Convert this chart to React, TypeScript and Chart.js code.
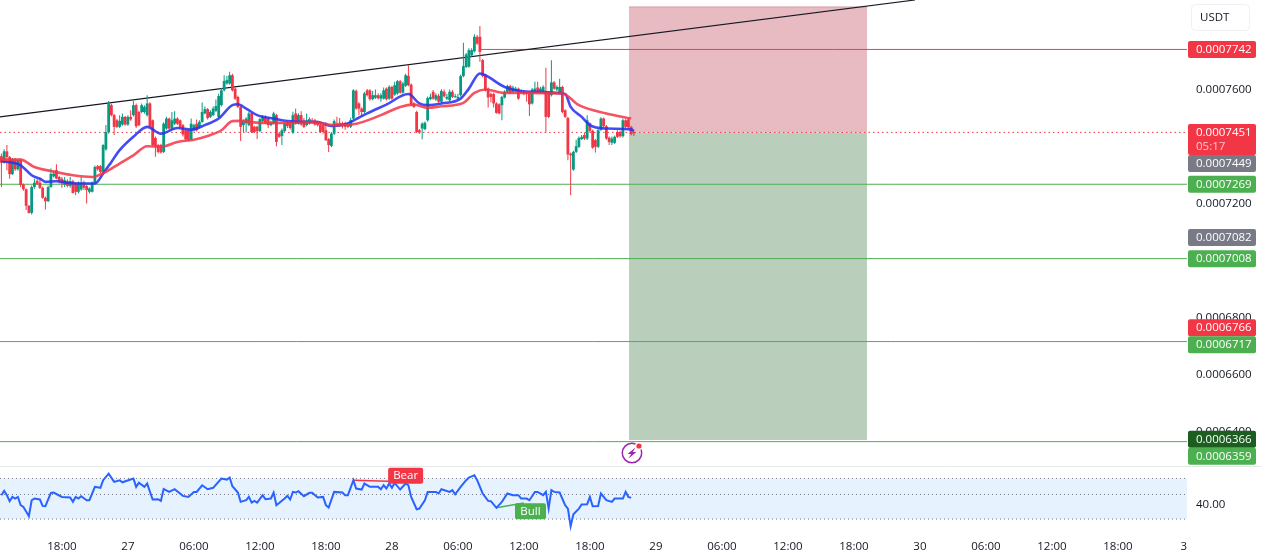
import React, { useEffect, useRef } from "react";
import { Chart, registerables } from "chart.js";

Chart.register(...registerables);

// Prices are in units of 0.0000001 USDT
const PRICE_UNIT = 1e-7;
// The candle and EMA estimates below read about 3.5 units high; corrected once where they are used.
const READ_BIAS = 3.5;
const opens = [7371,7348,7388,7368,7308,7360,7325,7358,7272,7255,7197,7172,7263,7285,7278,7260,7225,7213,7263,7300,7322,7298,7292,7270,7283,7267,7283,7275,7246,7254,7278,7266,7246,7246,7278,7336,7336,7316,7395,7456,7550,7515,7497,7474,7482,7509,7482,7509,7515,7550,7526,7526,7526,7515,7556,7497,7435,7410,7410,7386,7468,7503,7468,7485,7503,7497,7480,7462,7462,7430,7462,7485,7474,7491,7521,7536,7509,7515,7530,7509,7550,7602,7626,7626,7655,7608,7579,7544,7480,7486,7480,7521,7474,7474,7459,7494,7509,7503,7480,7486,7515,7450,7442,7459,7491,7486,7454,7521,7486,7515,7497,7480,7486,7497,7497,7491,7482,7480,7462,7431,7407,7450,7486,7488,7486,7486,7480,7474,7503,7600,7556,7538,7526,7602,7602,7571,7576,7585,7573,7573,7608,7573,7614,7587,7591,7634,7594,7618,7653,7622,7556,7526,7462,7468,7466,7497,7571,7597,7570,7583,7562,7597,7573,7567,7597,7579,7573,7585,7652,7684,7685,7725,7739,7790,7790,7708,7655,7608,7589,7589,7556,7553,7550,7577,7597,7617,7597,7600,7608,7593,7597,7593,7593,7556,7597,7612,7597,7597,7597,7593,7585,7630,7605,7593,7614,7532,7505,7380,7324,7386,7404,7431,7445,7433,7486,7460,7427,7404,7464,7503,7476,7436,7418,7418,7456,7456,7441,7497,7500,7474,7456];
const highs = [7380,7395,7410,7372,7365,7365,7362,7362,7275,7258,7200,7268,7292,7290,7295,7265,7230,7268,7328,7320,7343,7302,7298,7298,7290,7298,7288,7280,7282,7298,7285,7270,7262,7282,7338,7340,7340,7413,7480,7565,7555,7520,7502,7515,7521,7512,7515,7532,7565,7556,7530,7556,7550,7585,7560,7500,7440,7414,7415,7490,7509,7506,7526,7529,7508,7500,7484,7466,7465,7503,7485,7500,7497,7559,7545,7540,7532,7545,7570,7590,7610,7655,7652,7667,7660,7612,7583,7548,7500,7508,7527,7525,7478,7478,7506,7515,7515,7508,7495,7527,7520,7455,7468,7490,7495,7490,7527,7538,7522,7529,7505,7521,7508,7505,7502,7495,7486,7484,7491,7435,7456,7500,7509,7505,7492,7492,7490,7506,7606,7605,7560,7542,7596,7607,7606,7600,7605,7592,7592,7612,7612,7620,7618,7632,7638,7638,7632,7660,7690,7626,7560,7530,7466,7490,7493,7580,7590,7603,7592,7590,7606,7605,7590,7605,7603,7590,7590,7658,7769,7733,7750,7750,7799,7796,7828,7712,7660,7612,7594,7594,7560,7557,7583,7602,7622,7622,7618,7615,7612,7605,7602,7597,7597,7610,7632,7632,7615,7620,7681,7598,7708,7635,7620,7643,7618,7536,7509,7384,7390,7429,7440,7445,7455,7515,7490,7465,7431,7467,7508,7507,7480,7440,7440,7444,7462,7460,7502,7501,7504,7478,7460];
const lows = [7263,7345,7322,7292,7305,7320,7320,7262,7250,7182,7170,7166,7257,7270,7256,7222,7184,7210,7260,7296,7290,7275,7260,7263,7262,7260,7240,7234,7240,7250,7252,7205,7240,7244,7275,7320,7312,7312,7390,7450,7510,7445,7470,7470,7478,7478,7478,7495,7510,7470,7476,7522,7520,7510,7470,7405,7369,7380,7380,7382,7464,7464,7464,7480,7480,7470,7440,7426,7424,7426,7458,7458,7470,7488,7518,7500,7505,7512,7526,7505,7545,7598,7622,7622,7598,7568,7540,7424,7456,7454,7476,7452,7452,7431,7455,7490,7484,7470,7476,7482,7406,7436,7410,7455,7470,7465,7450,7482,7482,7478,7470,7476,7482,7486,7478,7475,7452,7450,7424,7386,7402,7445,7473,7476,7468,7464,7470,7470,7500,7534,7515,7509,7522,7580,7566,7567,7572,7570,7562,7570,7566,7568,7569,7583,7587,7590,7590,7614,7616,7548,7540,7452,7450,7430,7462,7492,7567,7569,7565,7558,7558,7577,7568,7563,7575,7575,7569,7580,7648,7680,7681,7720,7735,7762,7702,7648,7598,7542,7560,7542,7520,7518,7497,7573,7593,7590,7593,7596,7569,7590,7585,7562,7512,7552,7593,7593,7593,7593,7454,7505,7580,7604,7600,7590,7522,7505,7357,7234,7320,7382,7400,7428,7428,7428,7456,7397,7384,7400,7460,7472,7429,7410,7410,7414,7435,7437,7437,7470,7468,7444,7442];
const closes = [7348,7388,7368,7308,7360,7325,7358,7270,7255,7197,7172,7263,7278,7274,7260,7225,7213,7263,7309,7310,7293,7283,7275,7287,7267,7283,7242,7246,7278,7278,7260,7252,7258,7278,7333,7325,7316,7410,7456,7556,7515,7474,7474,7495,7509,7482,7509,7500,7550,7476,7480,7550,7544,7556,7474,7410,7406,7386,7384,7485,7503,7468,7497,7503,7485,7474,7447,7430,7427,7485,7480,7462,7491,7526,7536,7505,7526,7538,7547,7582,7602,7635,7638,7655,7602,7573,7544,7474,7494,7503,7521,7456,7456,7459,7501,7509,7488,7480,7488,7521,7421,7439,7462,7485,7477,7470,7515,7486,7515,7482,7474,7497,7501,7491,7482,7480,7456,7456,7427,7410,7450,7494,7477,7480,7480,7474,7474,7497,7602,7538,7538,7526,7591,7585,7571,7585,7585,7574,7585,7602,7571,7614,7573,7620,7634,7594,7626,7655,7620,7552,7544,7456,7454,7485,7488,7575,7579,7573,7585,7562,7600,7581,7579,7597,7579,7582,7579,7652,7687,7728,7743,7743,7790,7766,7737,7652,7603,7577,7579,7556,7523,7521,7579,7597,7617,7593,7612,7608,7573,7596,7589,7589,7553,7605,7608,7597,7608,7614,7509,7509,7630,7608,7614,7614,7526,7509,7377,7374,7386,7406,7435,7439,7433,7497,7460,7401,7404,7462,7503,7476,7433,7421,7433,7439,7439,7441,7497,7474,7472,7448,7451];

const blueEmaIdx = [0,7,11,14,16,20,24,29,34,37,40,43,48,53,58,64,69,74,79,84,86,89,93,99,104,111,115,120,126,129,133,140,148,152,155,160,167,170,174,176,183,192,205,207,211,214,220,229,230];
const blueEma = [7354,7339,7304,7292,7281,7283,7278,7275,7275,7310,7351,7392,7439,7474,7450,7470,7464,7480,7503,7550,7553,7538,7515,7503,7494,7491,7491,7477,7486,7501,7521,7552,7589,7556,7550,7556,7573,7608,7661,7655,7614,7597,7589,7544,7509,7480,7468,7465,7460];
const redEmaIdx = [0,7,12,18,26,33,38,43,48,53,58,64,70,75,80,84,87,94,106,113,121,128,138,145,150,155,160,168,172,176,183,192,204,210,220,229];
const redEma = [7359,7359,7333,7319,7304,7298,7316,7345,7374,7406,7404,7421,7429,7442,7462,7494,7495,7488,7488,7490,7480,7483,7515,7544,7552,7541,7546,7558,7593,7605,7593,7593,7591,7550,7521,7503];

const rsiIdx = [0,1,2,3,4,5,6,7,8,10,11,12,14,15,16,18,19,22,25,26,27,28,29,31,32,34,36,37,39,41,43,44,48,49,50,52,53,55,57,58,59,61,63,66,68,70,71,73,75,77,80,82,83,84,86,87,89,90,91,92,93,95,96,98,99,100,103,104,105,106,107,108,110,112,113,115,117,118,119,121,124,125,126,128,129,131,132,134,137,138,139,140,141,142,143,145,147,148,149,151,152,154,155,158,159,160,163,164,165,167,169,170,172,173,175,177,178,180,182,184,186,188,189,191,192,194,195,197,198,199,200,201,203,205,206,207,208,210,211,213,214,215,217,218,220,222,223,226,227,228,229];
const rsiVal = [49.3,53.4,49.3,43.7,47.7,46.2,47.7,40,38.4,29.7,44.6,46.2,45.3,39.3,39,51.5,51.8,47.7,47.1,43.1,47.7,46.2,48.4,44.6,44.6,57.1,56.2,63.3,69.5,61.8,63.3,61.4,64.9,57.1,61.1,57.1,60.2,45.3,45.6,44,55.2,52.4,54.9,48.7,47.7,52.4,52.4,58.6,54.9,56.2,64.9,63.9,65.8,57.7,51.8,43.1,44.6,47.7,42.4,44,42.4,49.3,45.6,46.2,51.8,40,46.2,48.7,45.3,52.4,51.8,53,48.4,51.5,51.5,47.1,47.7,40,37.8,52.4,51.8,49.3,49.3,63.3,55.5,54.6,60.2,57.1,57.1,54.9,58.6,55.5,60.2,56.2,60.8,54.6,60.2,58.6,47.7,36.2,36.8,44.6,52.4,52.4,50.9,54.9,52.4,54,50.2,57.1,63.3,65.8,68,63.3,50.9,44,43.7,37.5,43.1,50.9,49.3,49.3,46.2,46.2,44.6,52.4,52.4,49.3,52.4,36.8,54,52.4,51.8,40,36.8,20.3,31.5,36.8,40.6,40.9,47.7,39,39.3,50.9,44.6,43.1,46.2,46.2,52.4,47.7,46.8];
const rsiLevels = [65, 50, 27];

const timeTickIdx = [22,46,70,94,118,142,166,190,214,238,262,286,310,334,358,382,406,430];
const timeTickLabels = ["18:00","27","06:00","12:00","18:00","28","06:00","12:00","18:00","29","06:00","12:00","18:00","30","06:00","12:00","18:00","3"];
const priceTicks = [7600,7200,6800,6600,6400];
const rsiTicks = [40];

const RED = "#F23645";
const GREEN = "#089981";
const LINE_GREEN = "#4CAF50";
const FONT = '"Open Sans", sans-serif';
const FONT_SIZE = 11.5;

const priceLabels = [
  { value: 7742, bg: "#F23645", extra: "" },
  { value: 7451, bg: "#F23645", extra: "05:17" },
  { value: 7449, bg: "#787B86", extra: "" },
  { value: 7269, bg: "#4CAF50", extra: "" },
  { value: 7082, bg: "#787B86", extra: "" },
  { value: 7008, bg: "#4CAF50", extra: "" },
  { value: 6766, bg: "#F23645", extra: "" },
  { value: 6717, bg: "#4CAF50", extra: "" },
  { value: 6366, bg: "#1B5E20", extra: "", nudge: -2.5 },
  { value: 6359, bg: "#4CAF50", extra: "" },
];
const fmt = (v: number) => (v * PRICE_UNIT).toFixed(7);

const noPadding = (s: any) => {
  s.paddingLeft = 0;
  s.paddingRight = 0;
  s.paddingTop = 0;
  s.paddingBottom = 0;
};

const overlay = {
  id: "overlay",
  beforeDatasetsDraw(chart: any) {
    const { ctx, chartArea, scales } = chart;
    const r = scales.yRsi;
    ctx.save();
    ctx.fillStyle = "#E6F3FE";
    const t = r.getPixelForValue(rsiLevels[0]);
    const b = r.getPixelForValue(rsiLevels[2]);
    ctx.fillRect(chartArea.left, t, chartArea.width, b - t);
    ctx.restore();
  },
  afterDraw(chart: any) {
    const { ctx, scales, width } = chart;
    const y = scales.y;
    const x = scales.x;
    const r = scales.yRsi;
    ctx.save();
    // pane separator
    ctx.strokeStyle = "#E6E7EB";
    ctx.lineWidth = 1;
    ctx.beginPath();
    ctx.moveTo(0, y.bottom + 0.5);
    ctx.lineTo(width, y.bottom + 0.5);
    ctx.stroke();

    // unit button
    ctx.strokeStyle = "#EFF0F3";
    ctx.fillStyle = "#fff";
    ctx.beginPath();
    ctx.roundRect(1191.5, 4.5, 58, 26, 4);
    ctx.fill();
    ctx.stroke();
    ctx.fillStyle = "#131722";
    ctx.font = `${FONT_SIZE}px ${FONT}`;
    ctx.textAlign = "left";
    ctx.textBaseline = "middle";
    ctx.fillText("USDT", 1200, 18);

    // axis labels, stacked so they never overlap
    let prevBottom = -Infinity;
    for (const l of priceLabels) {
      const cy = y.getPixelForValue(l.value) + ((l as any).nudge || 0);
      const h = l.extra ? 31 : 17;
      const top = Math.max(cy - 8.5, prevBottom);
      ctx.fillStyle = l.bg;
      ctx.beginPath();
      ctx.roundRect(1188, top, 68, h, 2);
      ctx.fill();
      ctx.fillStyle = "#fff";
      ctx.textAlign = "left";
      ctx.fillText(fmt(l.value), 1196, top + 9);
      if (l.extra) {
        ctx.fillStyle = "rgba(255,255,255,0.72)";
        ctx.fillText(l.extra, 1196, top + 23);
      }
      prevBottom = top + h;
    }

    // divergence tags
    const tag = (text: string, bg: string, i: number, v: number, w: number) => {
      const cx = x.getPixelForValue(i);
      const cy = r.getPixelForValue(v);
      ctx.fillStyle = bg;
      ctx.beginPath();
      ctx.roundRect(cx - w / 2, cy - 8, w, 16, 2);
      ctx.fill();
      ctx.fillStyle = "#fff";
      ctx.textAlign = "center";
      ctx.fillText(text, cx, cy + 0.5);
    };
    tag("Bear", RED, 147, 67.6, 35);
    tag("Bull", LINE_GREEN, 192.4, 34.4, 31);

    // event marker
    const mx = x.getPixelForValue(229.3);
    const my = y.bottom - 13;
    ctx.strokeStyle = "#9C27B0";
    ctx.lineWidth = 1.5;
    ctx.beginPath();
    ctx.arc(mx, my, 9.7, 0, Math.PI * 2);
    ctx.stroke();
    ctx.fillStyle = "#9C27B0";
    ctx.beginPath();
    ctx.moveTo(mx + 3.5, my - 5.5);
    ctx.lineTo(mx - 4.5, my + 1);
    ctx.lineTo(mx - 0.8, my + 1);
    ctx.lineTo(mx - 3.5, my + 5.5);
    ctx.lineTo(mx + 4.5, my - 1);
    ctx.lineTo(mx + 0.8, my - 1);
    ctx.closePath();
    ctx.fill();
    ctx.fillStyle = "#fff";
    ctx.beginPath();
    ctx.arc(mx + 7, my - 7, 4, 0, Math.PI * 2);
    ctx.fill();
    ctx.fillStyle = RED;
    ctx.beginPath();
    ctx.arc(mx + 7, my - 7, 2.6, 0, Math.PI * 2);
    ctx.fill();
    ctx.restore();
  },
};

export default function App() {
  const ref = useRef<HTMLCanvasElement | null>(null);
  useEffect(() => {
    document.body.style.margin = "0";
    document.body.style.background = "#fff";
    const X_MIN = -0.51;
    const X_MAX = 431.13;
    const candleColors = closes.map((c, i) => (c >= opens[i] ? GREEN : RED));
    const hline = (v: number, color: string, from = X_MIN, to = X_MAX, extra: any = {}) => ({
      type: "line",
      data: [{ x: from, y: v }, { x: to, y: v }],
      borderColor: color,
      borderWidth: 1,
      pointRadius: 0,
      yAxisID: "y",
      order: 5,
      ...extra,
    });
    const rline = (v: number) => ({
      type: "line",
      data: [{ x: X_MIN, y: v }, { x: X_MAX, y: v }],
      borderColor: "#787B86",
      borderWidth: 1,
      borderDash: [1, 3],
      pointRadius: 0,
      yAxisID: "yRsi",
      order: 6,
    });
    const boxLeft = 228.2;
    const boxRight = 314.8;
    const chart = new Chart(ref.current as HTMLCanvasElement, {
      type: "bar",
      plugins: [overlay],
      data: {
        datasets: [
          // position tool
          {
            type: "line",
            data: [{ x: boxLeft, y: 7891 }, { x: boxRight, y: 7891 }],
            borderColor: "#D29EA4",
            borderWidth: 1,
            pointRadius: 0,
            fill: { value: 7451 },
            backgroundColor: "#E7BBC1",
            yAxisID: "y",
            order: 9,
          },
          {
            type: "line",
            data: [{ x: boxLeft, y: 6372 }, { x: boxRight, y: 6372 }],
            borderColor: "#BACEBC",
            borderWidth: 0,
            pointRadius: 0,
            fill: { value: 7451 },
            backgroundColor: "#BACEBC",
            yAxisID: "y",
            order: 9,
          },
          hline(7269, LINE_GREEN),
          hline(7008, LINE_GREEN),
          hline(6717, LINE_GREEN),
          hline(6366, LINE_GREEN),
          hline(7742, "#E5414F", 174),
          hline(7451, RED, X_MIN, X_MAX, { borderDash: [1.5, 3] }),
          // trend line
          {
            type: "line",
            data: [{ x: X_MIN, y: 7505.5 }, { x: 332.2, y: 7915.5 }],
            borderColor: "#131722",
            borderWidth: 1.2,
            pointRadius: 0,
            yAxisID: "y",
            order: 4,
          },
          // candles
          {
            type: "bar",
            data: closes.map((_, i) => ({ x: i, y: [lows[i] - READ_BIAS, highs[i] - READ_BIAS] })),
            backgroundColor: candleColors,
            barThickness: 1,
            grouped: false,
            inflateAmount: 0,
            yAxisID: "y",
            order: 3,
          },
          {
            type: "bar",
            data: closes.map((c, i) => ({ x: i, y: [Math.min(opens[i], c) - READ_BIAS, Math.max(opens[i], c) - READ_BIAS] })),
            backgroundColor: candleColors,
            barThickness: 2.8,
            grouped: false,
            inflateAmount: 0,
            yAxisID: "y",
            order: 2,
          },
          {
            type: "line",
            data: blueEmaIdx.map((x, i) => ({ x, y: blueEma[i] - READ_BIAS })),
            borderColor: "rgba(41,50,240,0.88)",
            borderWidth: 2.6,
            pointRadius: 0,
            cubicInterpolationMode: "monotone",
            yAxisID: "y",
            order: 1,
          },
          {
            type: "line",
            data: redEmaIdx.map((x, i) => ({ x, y: redEma[i] - READ_BIAS })),
            borderColor: "rgba(242,54,69,0.85)",
            borderWidth: 2.6,
            pointRadius: 0,
            cubicInterpolationMode: "monotone",
            yAxisID: "y",
            order: 0,
          },
          // RSI pane
          rline(rsiLevels[0]),
          rline(rsiLevels[1]),
          rline(rsiLevels[2]),
          {
            type: "line",
            data: [{ x: 128, y: 63.3 }, { x: 147, y: 61.8 }],
            borderColor: RED,
            borderWidth: 1.5,
            pointRadius: 0,
            yAxisID: "yRsi",
            order: 1,
          },
          {
            type: "line",
            data: [{ x: 180, y: 37.5 }, { x: 190, y: 42 }],
            borderColor: LINE_GREEN,
            borderWidth: 1.5,
            pointRadius: 0,
            yAxisID: "yRsi",
            order: 1,
          },
          {
            type: "line",
            data: rsiIdx.map((x, i) => ({ x, y: rsiVal[i] })),
            borderColor: "#2962FF",
            borderWidth: 2,
            pointRadius: 0,
            yAxisID: "yRsi",
            order: 0,
          },
        ] as any,
      },
      options: {
        responsive: false,
        animation: false,
        devicePixelRatio: 1,
        layout: { padding: 0, autoPadding: false },
        plugins: { legend: { display: false }, tooltip: { enabled: false } },
        scales: {
          x: {
            type: "linear",
            offset: false,
            min: X_MIN,
            max: X_MAX,
            grid: { display: false, drawTicks: false },
            border: { display: false },
            afterBuildTicks: (s: any) => { s.ticks = timeTickIdx.map((value) => ({ value })); },
            afterFit: (s: any) => { s.height = 27; noPadding(s); },
            ticks: {
              autoSkip: false,
              maxRotation: 0,
              padding: 7,
              color: "#131722",
              font: { family: FONT, size: FONT_SIZE },
              callback: (v: any) => timeTickLabels[timeTickIdx.indexOf(v)] ?? "",
            },
          },
          y: {
            position: "right",
            stack: "panes",
            stackWeight: 466,
            min: 6280.5,
            max: 7915.5,
            grid: { display: false, drawTicks: false },
            border: { display: false },
            afterBuildTicks: (s: any) => { s.ticks = priceTicks.map((value) => ({ value })); },
            afterFit: (s: any) => { s.width = 74; noPadding(s); },
            ticks: {
              crossAlign: "near",
              padding: 9,
              color: "#131722",
              font: { family: FONT, size: FONT_SIZE },
              callback: (v: any) => fmt(v),
            },
          },
          yRsi: {
            position: "right",
            stack: "panes",
            stackWeight: 67,
            min: 14,
            max: 76.6,
            grid: { display: false, drawTicks: false },
            border: { display: false },
            afterBuildTicks: (s: any) => { s.ticks = rsiTicks.map((value) => ({ value })); },
            afterFit: (s: any) => { s.width = 74; noPadding(s); },
            ticks: {
              crossAlign: "near",
              padding: 9,
              color: "#131722",
              font: { family: FONT, size: FONT_SIZE },
              callback: (v: any) => Number(v).toFixed(2),
            },
          },
        },
      } as any,
    } as any);
    return () => chart.destroy();
  }, []);
  return <canvas ref={ref} width={1261} height={560} style={{ display: "block", width: 1261, height: 560 }} />;
}
